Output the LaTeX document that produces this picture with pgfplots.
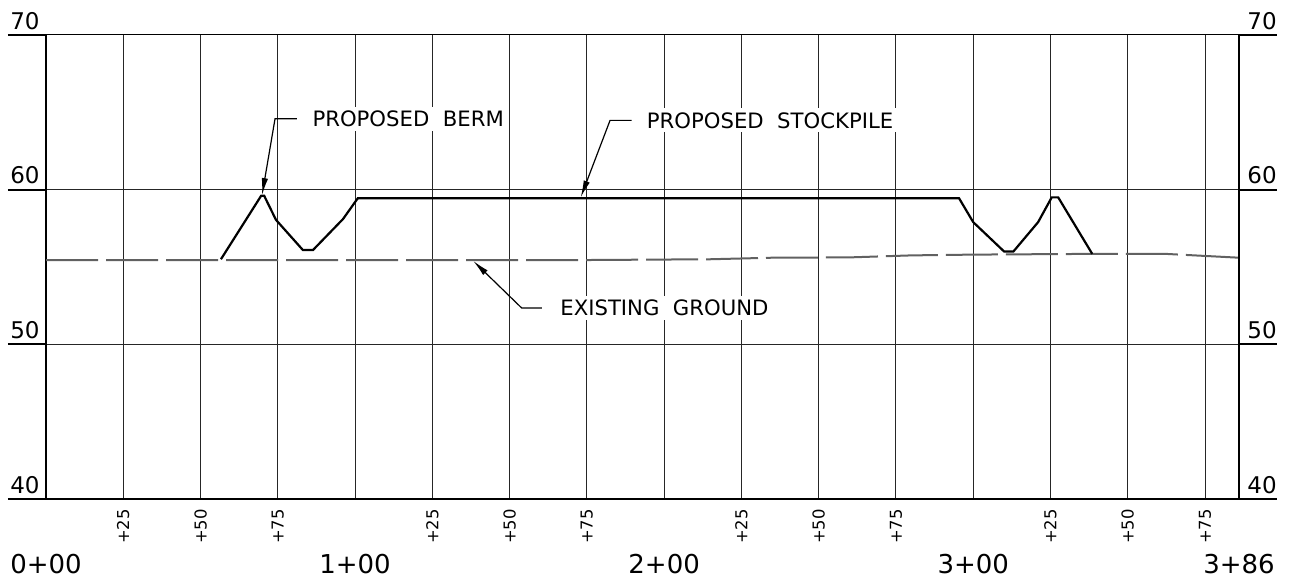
\documentclass[border=0pt]{standalone}
\usepackage{pgfplots}
\pgfplotsset{compat=1.18}
\usepackage{fontspec}
\setmainfont{DejaVu Sans}
\usetikzlibrary{arrows.meta}

% profile data: station (ft) vs elevation
\pgfplotstableread{
x y
56.6 55.5
69.6 59.6
70.6 59.6
74.4 58.05
83.1 56.1
86.4 56.1
96.1 58.1
100.9 59.45
295.4 59.45
300.0 57.9
310.0 56.0
313.0 56.0
321.0 57.9
325.4 59.5
327.5 59.5
338.5 55.85
}\proposed

\pgfplotstableread{
x y
0 55.45
100 55.45
175 55.45
215 55.5
235 55.6
260 55.62
280 55.75
300 55.8
340 55.85
362 55.85
386 55.6
}\existing

\begin{document}
\begin{tikzpicture}
\begin{axis}[
  at={(23pt,41pt)}, anchor=south west,
  scale only axis, width=596.5pt, height=232pt,
  xmin=0, xmax=386, ymin=40, ymax=70,
  axis line style={draw=none},
  xtick={25,50,...,375}, ytick={50,60},
  xticklabels={}, yticklabels={},
  major tick length=0pt,
  grid=major, grid style={black!85, line width=0.5pt},
  clip=false,
]
  % frame: extended elevation lines and thick borders
  \draw[black, line width=0.5pt] (axis cs:0,70) -- (axis cs:386,70);
  \pgfplotsinvokeforeach{50,60,70}{
    \draw[black, line width=1pt] (axis cs:-12.3,#1) -- (axis cs:0,#1);
    \draw[black, line width=1pt] (axis cs:386,#1) -- (axis cs:398.3,#1);
  }
  \draw[black, line width=1.1pt] (axis cs:-12.3,40) -- (axis cs:398.3,40);
  \draw[black, line width=1.1pt] (axis cs:0,40) -- (axis cs:0,70);
  \draw[black, line width=1.1pt] (axis cs:386,40) -- (axis cs:386,70);

  % elevation labels
  \pgfplotsinvokeforeach{40,50,60,70}{
    \node[anchor=south east, inner sep=0pt, font=\fontsize{11.5pt}{12pt}\selectfont]
      at ([xshift=-3pt,yshift=2.5pt]axis cs:0,#1) {#1};
    \node[anchor=south west, inner sep=0pt, font=\fontsize{11.5pt}{12pt}\selectfont]
      at ([xshift=4pt,yshift=2.5pt]axis cs:386,#1) {#1};
  }

  % station labels
  \pgfplotsinvokeforeach{0,100,200,300}{
    \node[rotate=90, inner sep=0pt, font=\fontsize{8.2pt}{9pt}\selectfont]
      at ([yshift=-13.8pt]axis cs:#1+25,40) {+25};
    \node[rotate=90, inner sep=0pt, font=\fontsize{8.2pt}{9pt}\selectfont]
      at ([yshift=-13.8pt]axis cs:#1+50,40) {+50};
    \node[rotate=90, inner sep=0pt, font=\fontsize{8.2pt}{9pt}\selectfont]
      at ([yshift=-13.8pt]axis cs:#1+75,40) {+75};
  }
  \node[inner sep=0pt, font=\fontsize{13pt}{14pt}\selectfont] at ([yshift=-32.5pt]axis cs:0,40) {0+00};
  \node[inner sep=0pt, font=\fontsize{13pt}{14pt}\selectfont] at ([yshift=-32.5pt]axis cs:100,40) {1+00};
  \node[inner sep=0pt, font=\fontsize{13pt}{14pt}\selectfont] at ([yshift=-32.5pt]axis cs:200,40) {2+00};
  \node[inner sep=0pt, font=\fontsize{13pt}{14pt}\selectfont] at ([yshift=-32.5pt]axis cs:300,40) {3+00};
  \node[inner sep=0pt, font=\fontsize{13pt}{14pt}\selectfont] at ([yshift=-32.5pt]axis cs:386,40) {3+86};

  % profiles
  \addplot[black!62, line width=1pt, dash pattern=on 26pt off 4pt] table {\existing};
  \addplot[black, line width=1.1pt] table {\proposed};

  % callouts
  \draw[black, line width=0.6pt, -{Latex[length=8.5pt,width=3.2pt]}]
    (axis cs:81.2,64.58) -- (axis cs:74.1,64.58) -- (axis cs:69.9,59.65);
  \node[anchor=west, fill=white, inner sep=2pt, font=\fontsize{10.6pt}{12pt}\selectfont]
    at ([xshift=-2pt]axis cs:86.1,64.58) {PROPOSED\ \ BERM};

  \draw[black, line width=0.6pt, -{Latex[length=8.5pt,width=3.2pt]}]
    (axis cs:189.5,64.48) -- (axis cs:182.5,64.48) -- (axis cs:173.0,59.5);
  \node[anchor=west, fill=white, inner sep=2pt, font=\fontsize{10.6pt}{12pt}\selectfont]
    at ([xshift=-2pt]axis cs:194.3,64.48) {PROPOSED\ \ STOCKPILE};

  \draw[black, line width=0.6pt, -{Latex[length=8.5pt,width=3.2pt]}]
    (axis cs:160.4,52.35) -- (axis cs:153.9,52.35) -- (axis cs:138.2,55.4);
  \node[anchor=west, fill=white, inner sep=2pt, font=\fontsize{10.6pt}{12pt}\selectfont]
    at ([xshift=-2pt]axis cs:166.3,52.35) {EXISTING\ \ GROUND};
\end{axis}
\pgfresetboundingbox
\path (0,0) rectangle (644.5pt,290.5pt);
\end{tikzpicture}
\end{document}
